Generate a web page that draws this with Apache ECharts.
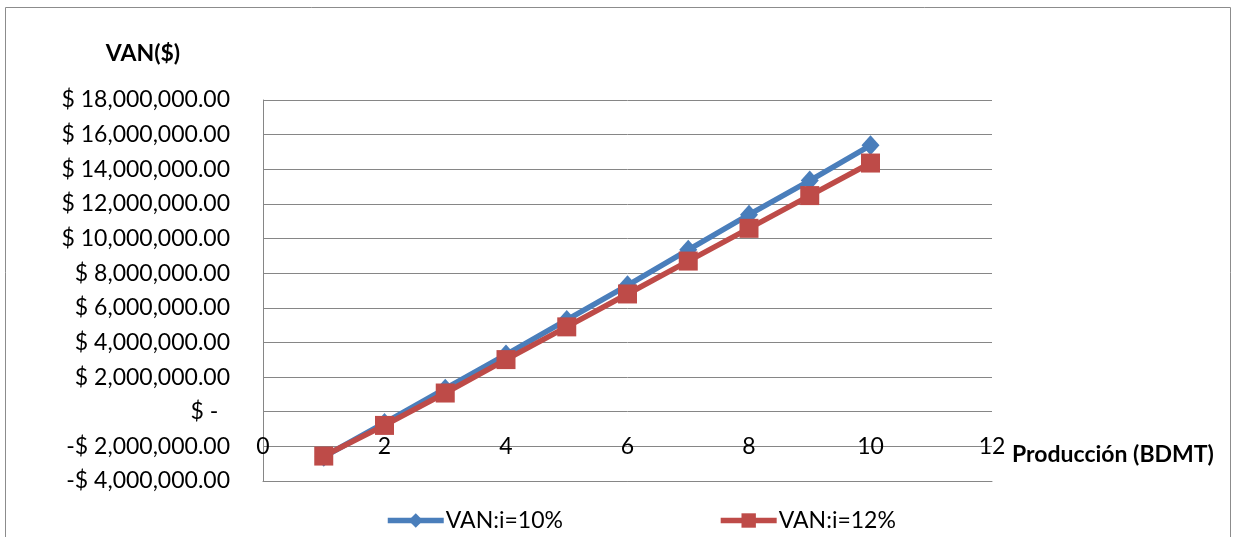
<!DOCTYPE html>
<html>
<head>
<meta charset="utf-8">
<title>VAN vs Producción</title>
<script src="https://cdn.jsdelivr.net/npm/echarts@6/dist/echarts.min.js"></script>
<style>
  html, body { margin: 0; padding: 0; background: #ffffff; }
  #chart { width: 1236px; height: 537px; }
</style>
</head>
<body>
<div id="chart"></div>
<script>
// Production levels (BDMT) and net present value at two discount rates
const produccion = [1, 2, 3, 4, 5, 6, 7, 8, 9, 10];
const van10 = [-2600000, -650000, 1330000, 3300000, 5300000, 7300000, 9350000, 11380000, 13350000, 15380000];
const van12 = [-2560000, -790000, 1080000, 3010000, 4900000, 6800000, 8700000, 10590000, 12480000, 14360000];
const seriesNames = ['VAN:i=10%', 'VAN:i=12%'];
const xAxisTitle = 'Producción (BDMT)';
const yAxisTitle = 'VAN($)';

const FONT = 'Lato, "Open Sans", sans-serif';
const FS = 23;
const GRID = '#868686';

function money(v) {
  if (v === 0) return '$ -  ';
  const s = Math.abs(v).toLocaleString('en-US', { minimumFractionDigits: 2, maximumFractionDigits: 2 });
  return (v < 0 ? '-$ ' : '$ ') + s;
}

const chart = echarts.init(document.getElementById('chart'), null, { renderer: 'canvas' });

chart.setOption({
  animation: false,
  backgroundColor: '#ffffff',
  textStyle: { fontFamily: FONT },
  graphic: [{
    type: 'rect',
    shape: { x: 5.5, y: 7.5, width: 1225, height: 540 },
    style: { fill: 'none', stroke: '#8c8c8c', lineWidth: 1 },
    silent: true,
    z: -10
  }],
  grid: { left: 263, right: 244, top: 100, bottom: 56, containLabel: false },
  legend: {
    data: seriesNames,
    left: 380,
    top: 504,
    itemWidth: 56,
    itemHeight: 18,
    itemGap: 155,
    lineStyle: { width: 5.5 },
    textStyle: { fontFamily: FONT, fontSize: FS, color: '#000000', padding: [0, 0, 0, -3] }
  },
  xAxis: {
    type: 'value',
    min: 0,
    max: 12,
    interval: 2,
    position: 'bottom',
    name: xAxisTitle,
    nameLocation: 'end',
    nameGap: 20,
    nameTextStyle: {
      fontFamily: FONT, fontSize: FS, fontWeight: 'bold', color: '#000000',
      verticalAlign: 'bottom', lineHeight: 52
    },
    axisLine: { onZero: false, show: true, lineStyle: { color: GRID, width: 1 } },
    axisTick: { show: false },
    splitLine: { show: false },
    axisLabel: { margin: -46, fontFamily: FONT, fontSize: FS, color: '#000000' }
  },
  yAxis: {
    type: 'value',
    min: -4000000,
    max: 18000000,
    interval: 2000000,
    name: yAxisTitle,
    nameLocation: 'end',
    nameGap: 35,
    nameTextStyle: {
      fontFamily: FONT, fontSize: FS, fontWeight: 'bold', color: '#000000',
      align: 'center', padding: [0, 240, 0, 0]
    },
    axisLine: { show: true, lineStyle: { color: GRID, width: 1 } },
    axisTick: { show: false },
    splitLine: { show: true, lineStyle: { color: GRID, width: 1 } },
    axisLabel: { margin: 33, fontFamily: FONT, fontSize: FS, color: '#000000', formatter: money }
  },
  series: [
    {
      name: seriesNames[0],
      type: 'line',
      data: produccion.map((x, i) => [x, van10[i]]),
      symbol: 'diamond',
      symbolSize: [18, 20],
      lineStyle: { color: '#4A7EBB', width: 5.5 },
      itemStyle: { color: '#4A7EBB' },
      z: 2
    },
    {
      name: seriesNames[1],
      type: 'line',
      data: produccion.map((x, i) => [x, van12[i]]),
      symbol: 'rect',
      symbolSize: 19,
      lineStyle: { color: '#BE4B48', width: 5.5 },
      itemStyle: { color: '#BE4B48' },
      z: 3
    }
  ]
});
</script>
</body>
</html>
